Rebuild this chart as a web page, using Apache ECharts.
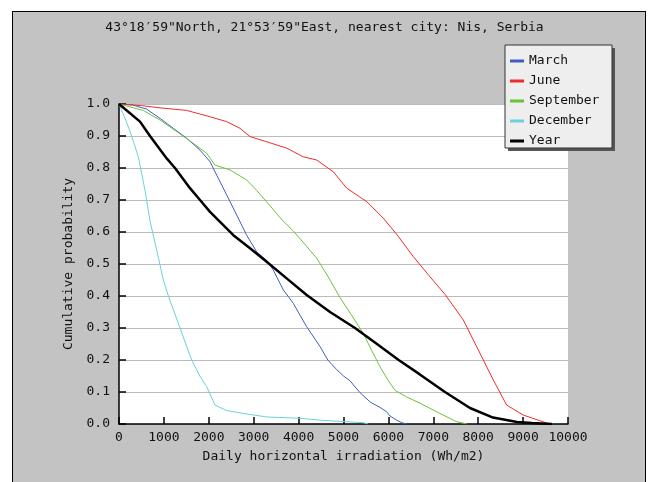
<!DOCTYPE html>
<html>
<head>
<meta charset="utf-8">
<script src="https://cdn.jsdelivr.net/npm/echarts@6/dist/echarts.min.js"></script>
<style>
  html, body { margin: 0; padding: 0; background: #fff; overflow: hidden; }
  #frame { position: absolute; left: 12px; top: 11px; width: 632px; height: 520px;
           background: #c3c3c3; border: 1.5px solid #000; }
  #chart { position: absolute; left: 0; top: 0; width: 649px; height: 482px; }
</style>
</head>
<body>
<div id="frame"></div>
<div id="chart"></div>
<script>
// daily irradiation (Wh/m2) and cumulative probability
const marchX = [0, 300, 616, 913, 1210, 1507, 1804, 2027, 2175, 2398, 2621, 2844, 3066, 3300, 3437, 3660, 3883, 4031, 4180, 4477, 4650, 4848, 5000, 5145, 5367, 5600, 5813, 5962, 6036, 6184, 6300, 6407];
const marchP = [1.0, 0.997, 0.984, 0.955, 0.924, 0.893, 0.856, 0.82, 0.778, 0.716, 0.653, 0.59, 0.538, 0.51, 0.481, 0.419, 0.377, 0.34, 0.304, 0.242, 0.2, 0.17, 0.15, 0.135, 0.098, 0.068, 0.052, 0.038, 0.025, 0.012, 0.004, 0.0];

const juneX = [0, 500, 913, 1507, 2027, 2398, 2695, 2918, 3289, 3734, 4105, 4403, 4774, 5071, 5517, 5887, 6184, 6555, 6927, 7261, 7669, 8040, 8337, 8634, 9005, 9376, 9600];
const juneP = [1.0, 0.995, 0.988, 0.98, 0.96, 0.945, 0.924, 0.898, 0.882, 0.862, 0.835, 0.825, 0.788, 0.737, 0.695, 0.643, 0.593, 0.523, 0.46, 0.405, 0.325, 0.221, 0.1375, 0.059, 0.028, 0.01, 0.0];

const sepX = [0, 541, 913, 1285, 1655, 1953, 2138, 2472, 2844, 3066, 3363, 3650, 3883, 4150, 4403, 4660, 4922, 5180, 5441, 5627, 5813, 6000, 6150, 6400, 6704, 7149, 7521, 7750];
const sepP = [1.0, 0.98, 0.95, 0.914, 0.877, 0.846, 0.809, 0.794, 0.7625, 0.73, 0.682, 0.635, 0.603, 0.56, 0.518, 0.46, 0.395, 0.34, 0.283, 0.23, 0.179, 0.135, 0.105, 0.085, 0.065, 0.033, 0.007, 0.0];

const decX = [0, 150, 282, 430, 579, 690, 839, 988, 1099, 1359, 1618, 1800, 1953, 2138, 2398, 2770, 3289, 4031, 4477, 5441, 5550];
const decP = [1.0, 0.95, 0.9, 0.835, 0.73, 0.635, 0.544, 0.45, 0.40, 0.30, 0.20, 0.15, 0.117, 0.059, 0.042, 0.033, 0.022, 0.018, 0.012, 0.004, 0.0];

const yearX = [0, 468, 690, 1062, 1247, 1581, 1804, 2027, 2547, 2918, 3289, 3734, 4180, 4700, 5256, 5700, 6228, 6700, 7260, 7817, 8330, 8864, 9200, 9640];
const yearP = [1.0, 0.945, 0.9, 0.83, 0.8, 0.737, 0.7, 0.663, 0.59, 0.549, 0.507, 0.455, 0.403, 0.35, 0.3, 0.255, 0.2, 0.155, 0.1, 0.05, 0.02, 0.006, 0.003, 0.0];

const font = 'DejaVu Sans Mono';

const zip = (xs, ps) => xs.map((x, i) => [x, ps[i]]);

const mkLine = (name, xs, ps, color, width) => ({
  name: name,
  type: 'line',
  data: zip(xs, ps),
  showSymbol: false,
  symbol: 'none',
  lineStyle: { color: color, width: width },
  itemStyle: { color: color },
  z: width > 1 ? 3 : 2
});

const chart = echarts.init(document.getElementById('chart'));
chart.setOption({
  animation: false,
  backgroundColor: 'transparent',
  title: {
    text: '43°18′59"North, 21°53′59"East, nearest city: Nis, Serbia',
    left: 'center',
    top: 21,
    padding: [0, 0, 0, 38],
    textStyle: { fontFamily: font, fontSize: 13, fontWeight: 'normal', color: '#111' }
  },
  grid: {
    left: 119, top: 104, width: 449, height: 320,
    show: true, backgroundColor: '#fff', borderWidth: 0
  },
  graphic: [
    { type: 'rect', z: 10, shape: { x: 508, y: 48, width: 107, height: 103 }, style: { fill: '#555' } },
    { type: 'rect', z: 11, shape: { x: 505, y: 45, width: 107, height: 103 },
      style: { fill: '#eeeeee', stroke: '#333', lineWidth: 1 } }
  ],
  legend: {
    orient: 'vertical',
    left: 510,
    top: 51,
    padding: 0,
    itemGap: 0,
    itemWidth: 14,
    itemHeight: 3,
    icon: 'rect',
    z: 12,
    textStyle: { fontFamily: font, fontSize: 13, color: '#111', lineHeight: 20 },
    data: ['March', 'June', 'September', 'December', 'Year']
  },
  xAxis: {
    type: 'value',
    min: 0, max: 10000, interval: 1000,
    name: 'Daily horizontal irradiation (Wh/m2)',
    nameLocation: 'middle',
    nameGap: 26,
    nameTextStyle: { fontFamily: font, fontSize: 13, color: '#111' },
    axisLine: { lineStyle: { color: '#000', width: 1.5 } },
    axisTick: { inside: true, length: 7, lineStyle: { color: '#000', width: 1.5 } },
    axisLabel: { fontFamily: font, fontSize: 13, color: '#111', margin: 7,
                 formatter: v => String(v) },
    splitLine: { show: false }
  },
  yAxis: {
    type: 'value',
    min: 0, max: 1, interval: 0.1,
    name: 'Cumulative probability',
    nameLocation: 'middle',
    nameGap: 34,
    nameTextStyle: { fontFamily: font, fontSize: 13, color: '#111' },
    axisLine: { show: true, lineStyle: { color: '#000', width: 1.5 } },
    axisTick: { show: true, inside: true, length: 7, lineStyle: { color: '#000', width: 1.5 } },
    axisLabel: { fontFamily: font, fontSize: 13, color: '#111', margin: 9,
                 formatter: v => v.toFixed(1) },
    splitLine: { show: true, lineStyle: { color: '#bbbbbb', width: 1 } }
  },
  series: [
    mkLine('March', marchX, marchP, '#3f5fbf', 1),
    mkLine('June', juneX, juneP, '#f02c2c', 1),
    mkLine('September', sepX, sepP, '#6cc23a', 1),
    mkLine('December', decX, decP, '#6cd0dc', 1),
    mkLine('Year', yearX, yearP, '#000000', 2.5)
  ]
});
</script>
</body>
</html>
